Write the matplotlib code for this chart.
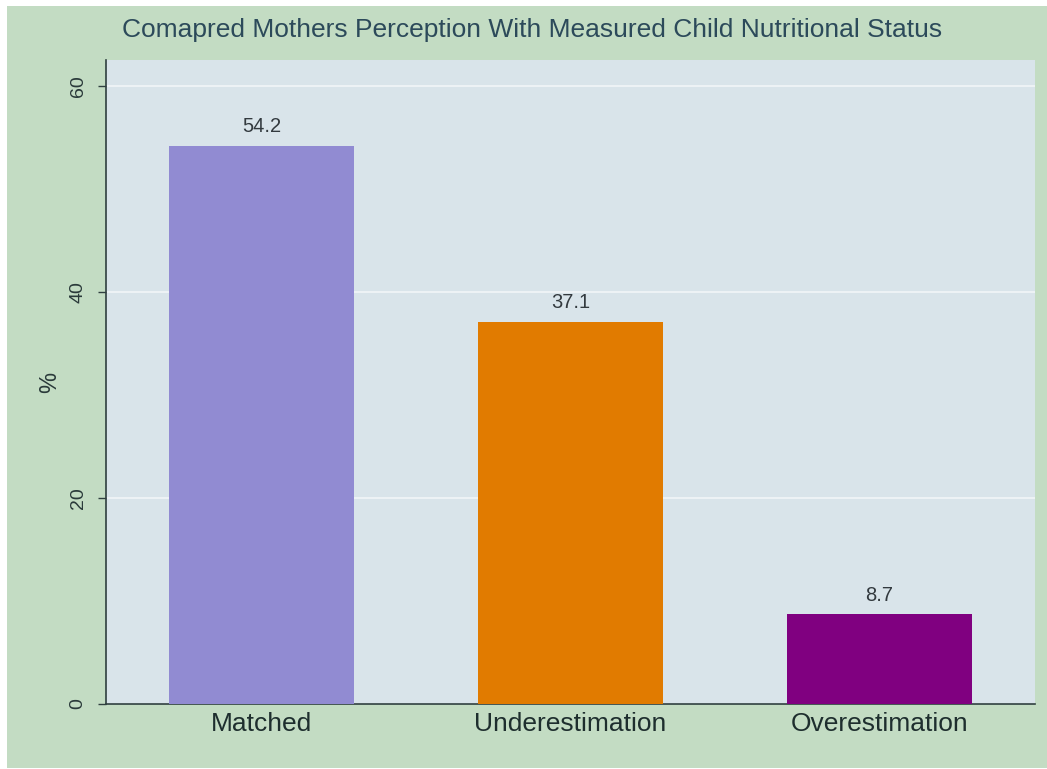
import matplotlib
matplotlib.use("Agg")
import matplotlib.pyplot as plt
from matplotlib.patches import Rectangle

categories = ["Matched", "Underestimation", "Overestimation"]
values = [54.2, 37.1, 8.7]
bar_colors = ["#918bd2", "#e17b00", "#800080"]
yticks = [0, 20, 40, 60]
title = "Comapred Mothers Perception With Measured Child Nutritional Status"

plt.rcParams['font.family'] = ['Liberation Sans', 'DejaVu Sans']

W, H = 1047, 769
fig = plt.figure(figsize=(W / 100, H / 100), dpi=100, facecolor="white")
fig.patches.append(Rectangle((7 / W, 1 / H), 1 - 7 / W, (762) / H,
                             transform=fig.transFigure, facecolor="#c3dcc3",
                             edgecolor="none", zorder=-5))

ax = fig.add_axes([106 / W, (H - 704) / H, (1035 - 106) / W, (704 - 60) / H])
ax.set_zorder(2)
ax.set_facecolor("#d9e4ea")
x = list(range(len(categories)))
ax.bar(x, values, width=0.6, color=bar_colors, zorder=3)
for xi, v in zip(x, values):
    ax.annotate(f"{v}", (xi, v), xytext=(0, 13.7), textcoords="offset points",
                ha="center", va="center", fontsize=14.5, color="#333a3f", zorder=4)

ax.set_xlim(-0.505, 2.505)
ax.set_ylim(0, 62.5)
ax.set_yticks(yticks)
ax.set_yticklabels([str(t) for t in yticks], rotation=90, va="center",
                   fontsize=14, color="#2a3a3a")
ax.set_xticks(x)
ax.set_xticklabels(categories, fontsize=19, color="#1e2e2e")
ax.tick_params(axis="x", length=0, pad=6)
ax.tick_params(axis="y", length=6, width=1, color="#2f3f3f", pad=8)
ax.grid(axis="y", color="#f2f6f8", linewidth=1.2, zorder=1)
ax.set_axisbelow(True)
for s in ["top", "right"]:
    ax.spines[s].set_visible(False)
for s in ["left", "bottom"]:
    ax.spines[s].set_color("#2f3f3f")
    ax.spines[s].set_linewidth(1.2)
ax.set_ylabel("%", fontsize=17, color="#2a3a3a", labelpad=6)

fig.text(532 / W, 1 - 30 / H, title, ha="center", va="center",
         fontsize=19, color="#2c4a5a")

fig.savefig("out.png", dpi=100, facecolor="white")
